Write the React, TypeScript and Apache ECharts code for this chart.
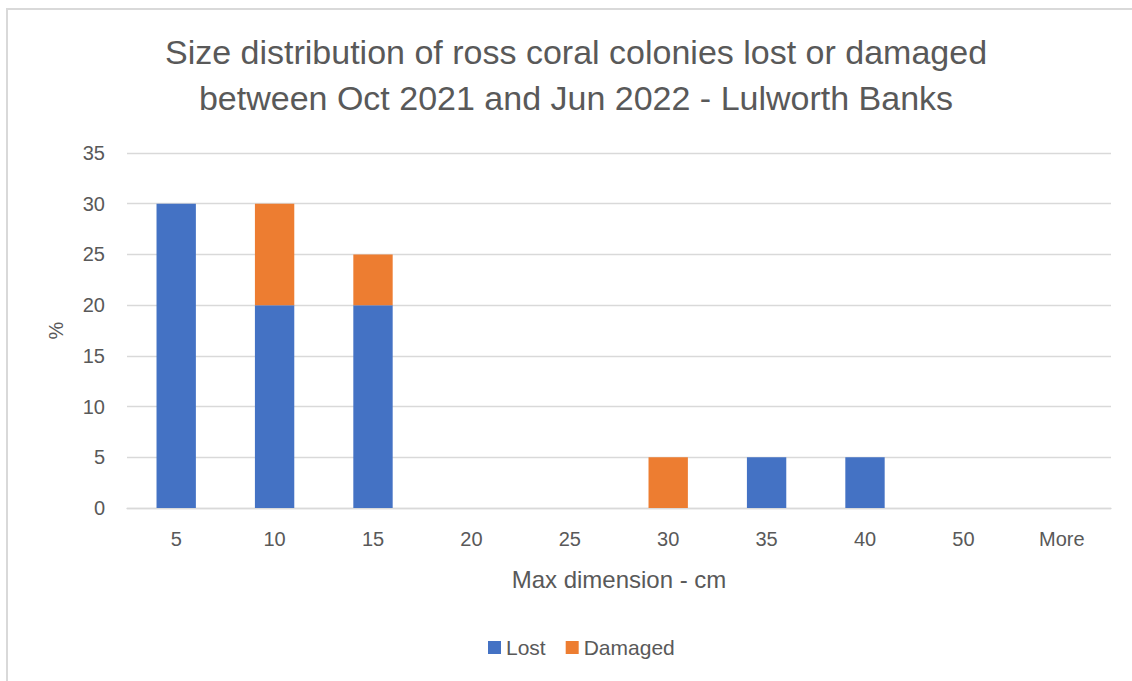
import React, { useEffect, useRef } from "react";
import * as echarts from "echarts";

const categories = ["5", "10", "15", "20", "25", "30", "35", "40", "50", "More"];
const lost = [30, 20, 20, 0, 0, 0, 5, 5, 0, 0];
const damaged = [0, 10, 5, 0, 0, 5, 0, 0, 0, 0];
const titleText = "Size distribution of ross coral colonies lost or damaged\nbetween Oct 2021 and Jun 2022 - Lulworth Banks";
const xName = "Max dimension - cm";
const yName = "%";

const FONT = "'Liberation Sans', Arial, sans-serif";
const GREY = "#595959";

export default function App() {
  const ref = useRef<HTMLDivElement>(null);
  useEffect(() => {
    if (!ref.current) return;
    const chart = echarts.init(ref.current, undefined, { renderer: "svg" });
    chart.setOption({
      animation: false,
      textStyle: { fontFamily: FONT },
      title: {
        text: titleText,
        left: 571,
        top: 24,
        textAlign: "center",
        textStyle: { fontFamily: FONT, fontSize: 34, fontWeight: "normal", color: GREY, lineHeight: 46 },
      },
      legend: {
        bottom: 18,
        left: 483,
        itemWidth: 13,
        itemHeight: 13,
        itemGap: 20,
        icon: "rect",
        textStyle: { fontFamily: FONT, fontSize: 21, color: GREY },
        data: ["Lost", "Damaged"],
      },
      grid: { left: 127, right: 21, top: 153, bottom: 173, containLabel: false },
      xAxis: {
        type: "category",
        data: categories,
        name: xName,
        nameLocation: "middle",
        nameGap: 59,
        nameTextStyle: { fontFamily: FONT, fontSize: 24, color: GREY },
        axisLine: { show: true, lineStyle: { color: "#d9d9d9", width: 1.3 } },
        axisTick: { show: false },
        axisLabel: { fontFamily: FONT, fontSize: 20, color: GREY, margin: 21 },
      },
      yAxis: {
        type: "value",
        min: 0,
        max: 35,
        interval: 5,
        name: yName,
        nameLocation: "middle",
        nameGap: 61,
        nameRotate: 90,
        nameTextStyle: { fontFamily: FONT, fontSize: 20, color: GREY },
        axisLine: { show: false },
        axisTick: { show: false },
        splitLine: { lineStyle: { color: "#d9d9d9", width: 1.3 } },
        axisLabel: { fontFamily: FONT, fontSize: 20, color: GREY, margin: 22 },
      },
      series: [
        {
          name: "Lost",
          type: "bar",
          stack: "total",
          data: lost,
          barWidth: "40%",
          itemStyle: { color: "#4472C4" },
        },
        {
          name: "Damaged",
          type: "bar",
          stack: "total",
          data: damaged,
          barWidth: "40%",
          itemStyle: { color: "#ED7D31" },
        },
      ],
    });
    return () => chart.dispose();
  }, []);
  return (
    <div style={{ position: "fixed", left: 0, top: 0, width: 1132, height: 681, background: "#fff", overflow: "hidden" }}>
      <div
        style={{
          position: "absolute",
          left: 6,
          top: 8,
          width: 1200,
          height: 800,
          borderLeft: "2px solid #d9d9d9",
          borderTop: "2px solid #d9d9d9",
          boxSizing: "border-box",
        }}
      />
      <div ref={ref} style={{ position: "absolute", left: 0, top: 0, width: 1132, height: 681 }} />
    </div>
  );
}
